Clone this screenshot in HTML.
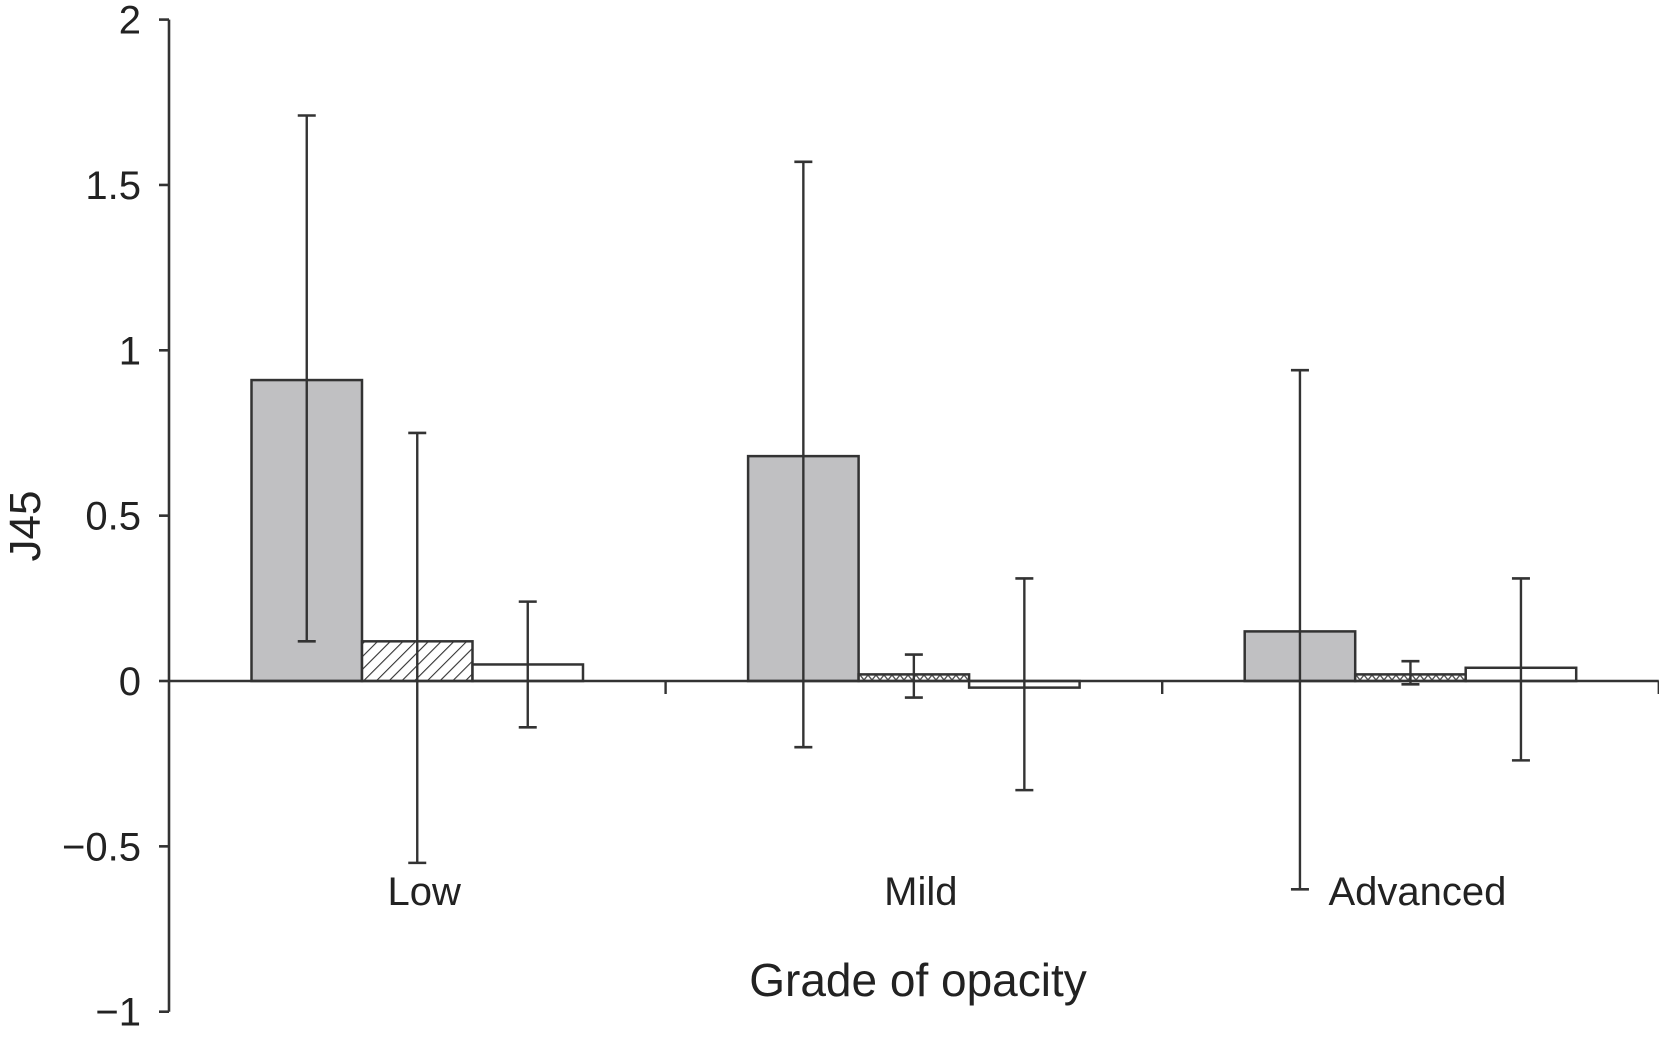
<!DOCTYPE html>
<html><head><meta charset="utf-8"><style>
html,body{margin:0;padding:0;background:#fff}
svg{display:block}
text{font-family:"Liberation Sans",Arial,sans-serif;fill:#222}
</style></head><body>
<svg id="chart" width="1659" height="1043" viewBox="0 0 1659 1043" xmlns="http://www.w3.org/2000/svg">
<defs>
<pattern id="hatch" patternUnits="userSpaceOnUse" width="9" height="9" patternTransform="rotate(45)">
<rect width="9" height="9" fill="#fff"/><line x1="0" y1="0" x2="0" y2="9" stroke="#333" stroke-width="2.2"/>
</pattern>
<pattern id="dots" patternUnits="userSpaceOnUse" width="8" height="8">
<rect width="8" height="8" fill="#fff"/><path d="M0 8 L4 3 L8 8" fill="none" stroke="#555" stroke-width="1.4"/>
</pattern>
</defs>
<g id="plot"></g>
</svg>
<script>
const categories = ["Low", "Mild", "Advanced"];
const series1 = [0.91, 0.68, 0.15];
const series1Lo = [0.12, -0.20, -0.63];
const series1Hi = [1.71, 1.57, 0.94];
const series2 = [0.12, 0.02, 0.02];
const series2Lo = [-0.55, -0.05, -0.01];
const series2Hi = [0.75, 0.08, 0.06];
const series3 = [0.05, -0.02, 0.04];
const series3Lo = [-0.14, -0.33, -0.24];
const series3Hi = [0.24, 0.31, 0.31];
const yTicks = [2, 1.5, 1, 0.5, 0, -0.5, -1];
const yTickLabels = ["2", "1.5", "1", "0.5", "0", "\u22120.5", "\u22121"];

const NS = "http://www.w3.org/2000/svg";
const g = document.getElementById('plot');
const X0 = 169, GW = 496.6, BOFF = 82.5, BW = 110.5;
const Y0 = 681, UNIT = 330.7;
function y(v){ return Y0 - v*UNIT; }
function gx(i){ return X0 + i*GW; }
function mk(tag, attrs, name, parent){
  const el = document.createElementNS(NS, tag);
  for (const k in attrs) el.setAttribute(k, attrs[k]);
  
  
  (parent||g).appendChild(el);
  return el;
}
const S = "#333";
mk('line',{x1:X0,y1:y(2),x2:X0,y2:y(-1),stroke:S,'stroke-width':2.6},'y-axis-line');
yTicks.forEach((t,i)=>{
  mk('line',{x1:X0-10,y1:y(t),x2:X0,y2:y(t),stroke:S,'stroke-width':2.6},'y-tick');
  const tx = mk('text',{x:141,y:y(t)+14,'text-anchor':'end','font-size':40},'y-tick-label');
  tx.textContent = yTickLabels[i];
});
const yt = mk('text',{x:0,y:0,'font-size':44,'text-anchor':'middle',transform:'translate(40,526) rotate(-90)'},'y-axis-title');
yt.textContent = 'J45';
const sets = [
  {v:series1, lo:series1Lo, hi:series1Hi, fill:'#c0c0c2', name:'bar-series1'},
  {v:series2, lo:series2Lo, hi:series2Hi, fill:'url(#hatch)', name:'bar-series2'},
  {v:series3, lo:series3Lo, hi:series3Hi, fill:'#fff', name:'bar-series3'}
];
categories.forEach((c,i)=>{
  sets.forEach((s,j)=>{
    const x = gx(i)+BOFF+j*BW;
    let fill = s.fill;
    if (j===1 && i>0) fill = 'url(#dots)';
    const v = s.v[i];
    mk('rect',{x:x,y:Math.min(y(v),y(0)),width:BW,height:Math.max(Math.abs(y(v)-y(0)),1),fill:fill,stroke:S,'stroke-width':2.5},s.name);
  });
});
mk('line',{x1:X0,y1:Y0,x2:X0+3*GW,y2:Y0,stroke:S,'stroke-width':2.4},'x-axis-line');
for (let i=1;i<=3;i++) mk('line',{x1:gx(i),y1:Y0,x2:gx(i),y2:Y0+13,stroke:S,'stroke-width':2.4},'x-tick');
categories.forEach((c,i)=>{
  sets.forEach((s,j)=>{
    const cx = gx(i)+BOFF+j*BW+BW/2;
    mk('line',{x1:cx,y1:y(s.hi[i]),x2:cx,y2:y(s.lo[i]),stroke:S,'stroke-width':2.4},'error-bar');
    mk('line',{x1:cx-9,y1:y(s.hi[i]),x2:cx+9,y2:y(s.hi[i]),stroke:S,'stroke-width':2.6},'error-cap-top');
    mk('line',{x1:cx-9,y1:y(s.lo[i]),x2:cx+9,y2:y(s.lo[i]),stroke:S,'stroke-width':2.6},'error-cap-bottom');
  });
  const lt = mk('text',{x:gx(i)+BOFF+1.5*BW+7,y:905,'text-anchor':'middle','font-size':40},'category-label');
  lt.textContent = c;
});
const xt = mk('text',{x:918,y:996,'text-anchor':'middle','font-size':46},'x-axis-title');
xt.textContent = 'Grade of opacity';
</script>
</body></html>
